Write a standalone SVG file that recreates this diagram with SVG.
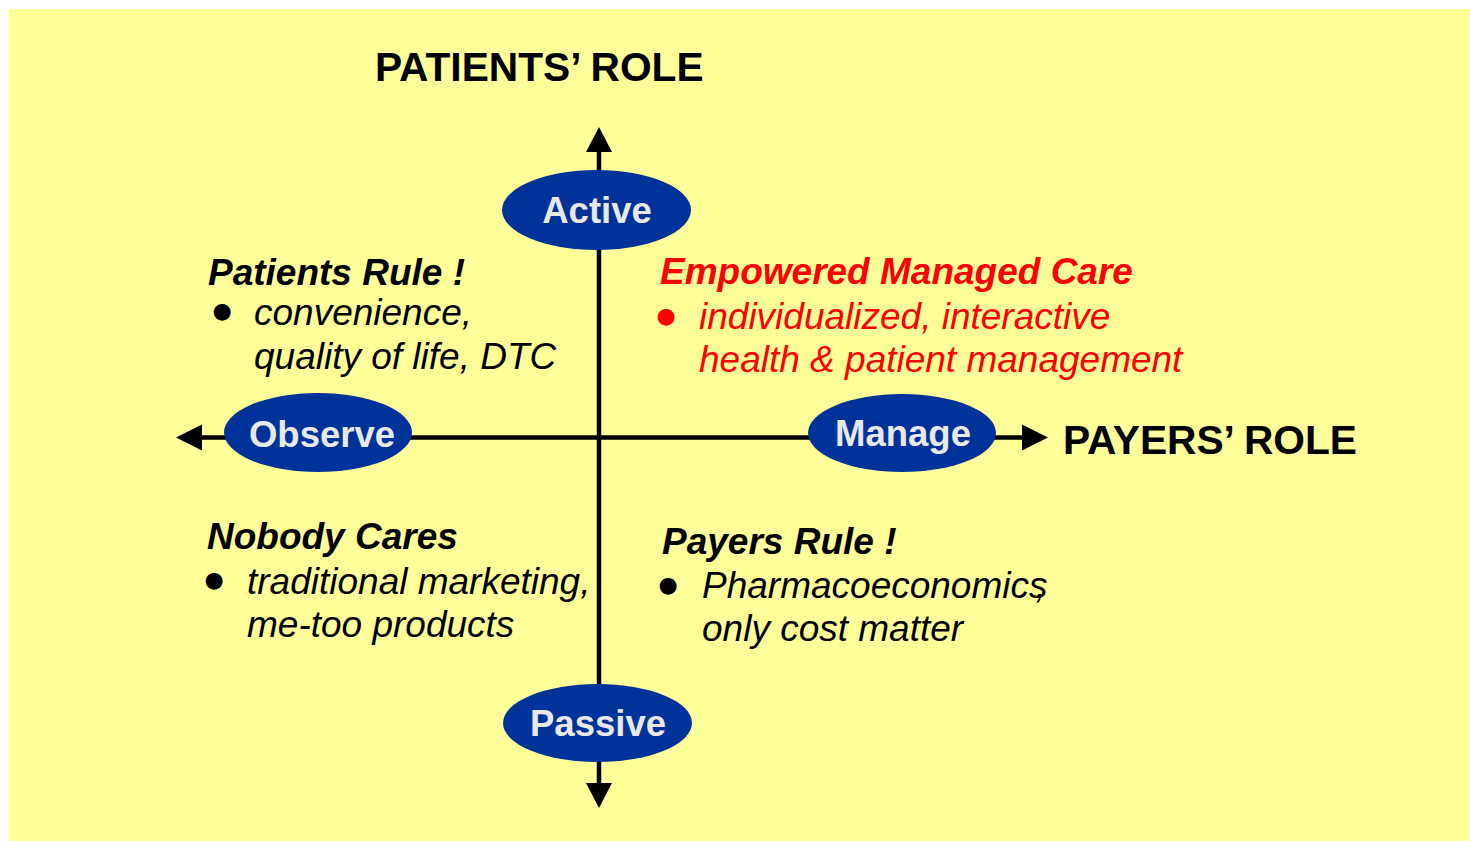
<svg xmlns="http://www.w3.org/2000/svg" width="1470" height="841" viewBox="0 0 1470 841">
<style>
.bg{fill:#FFFF99}
.ax{stroke:#000;stroke-width:4.5;fill:none}
.ah{fill:#000}
.ell{fill:#003399}
.lbl{font-family:"Liberation Sans",Arial,sans-serif;font-weight:bold;font-size:36.5px;fill:#E8E8E8;text-anchor:middle}
.title{font-family:"Liberation Sans",Arial,sans-serif;font-weight:bold;font-size:40.7px;fill:#000}
.head{font-family:"Liberation Sans",Arial,sans-serif;font-weight:bold;font-style:italic;font-size:37px;fill:#000}
.body{font-family:"Liberation Sans",Arial,sans-serif;font-style:italic;font-size:37px;fill:#000}
.bul{font-family:"DejaVu Sans",sans-serif;font-size:22px;fill:#000;text-anchor:middle}
.red{fill:#FF0000}
</style>
<rect class="bg" x="9" y="9" width="1461" height="832"/>
<g id="connectors">
<line class="ax" x1="599" y1="150" x2="599" y2="786"/>
<line class="ax" x1="200" y1="437.5" x2="1024" y2="437.5"/>
<polygon class="ah" points="599,127 586,152 612,152"/>
<polygon class="ah" points="599,808 586,783 612,783"/>
<polygon class="ah" points="176,437.5 202,424.5 202,450.5"/>
<polygon class="ah" points="1048,437.5 1022,424.5 1022,450.5"/>
</g>
<g id="title-patients"><text class="title" x="375" y="81">PATIENTS’ ROLE</text></g>
<g id="title-payers"><text class="title" x="1063" y="454">PAYERS’ ROLE</text></g>
<g id="node-active"><ellipse class="ell" cx="596.5" cy="210" rx="94.5" ry="40"/><text class="lbl" x="597" y="223">Active</text></g>
<g id="node-observe"><ellipse class="ell" cx="318" cy="432.5" rx="94" ry="39.5"/><text class="lbl" x="322" y="447">Observe</text></g>
<g id="node-manage"><ellipse class="ell" cx="902" cy="433" rx="94" ry="39"/><text class="lbl" x="903" y="446">Manage</text></g>
<g id="node-passive"><ellipse class="ell" cx="597.5" cy="723" rx="94.5" ry="39"/><text class="lbl" x="598" y="736">Passive</text></g>
<g id="quad-patients-rule">
<text class="head" x="208" y="285">Patients Rule !</text>
<text class="bul" x="222" y="318">●</text>
<text class="body" x="254" y="325">convenience,</text>
<text class="body" x="254" y="369">quality of life, DTC</text>
</g>
<g id="quad-empowered">
<text class="head red" x="660" y="284">Empowered Managed Care</text>
<text class="bul red" x="666" y="323">●</text>
<text class="body red" x="699" y="329">individualized, interactive</text>
<text class="body red" x="699" y="372">health &amp; patient management</text>
</g>
<g id="quad-nobody">
<text class="head" x="207" y="549">Nobody Cares</text>
<text class="bul" x="214" y="587">●</text>
<text class="body" x="247" y="594">traditional marketing,</text>
<text class="body" x="247" y="637">me-too products</text>
</g>
<g id="quad-payers-rule">
<text class="head" x="662" y="554">Payers Rule !</text>
<text class="bul" x="668" y="592">●</text>
<text class="body" x="702" y="598">Pharmacoeconomics<tspan dx="-12">,</tspan></text>
<text class="body" x="702" y="641">only cost matter</text>
</g>
</svg>
